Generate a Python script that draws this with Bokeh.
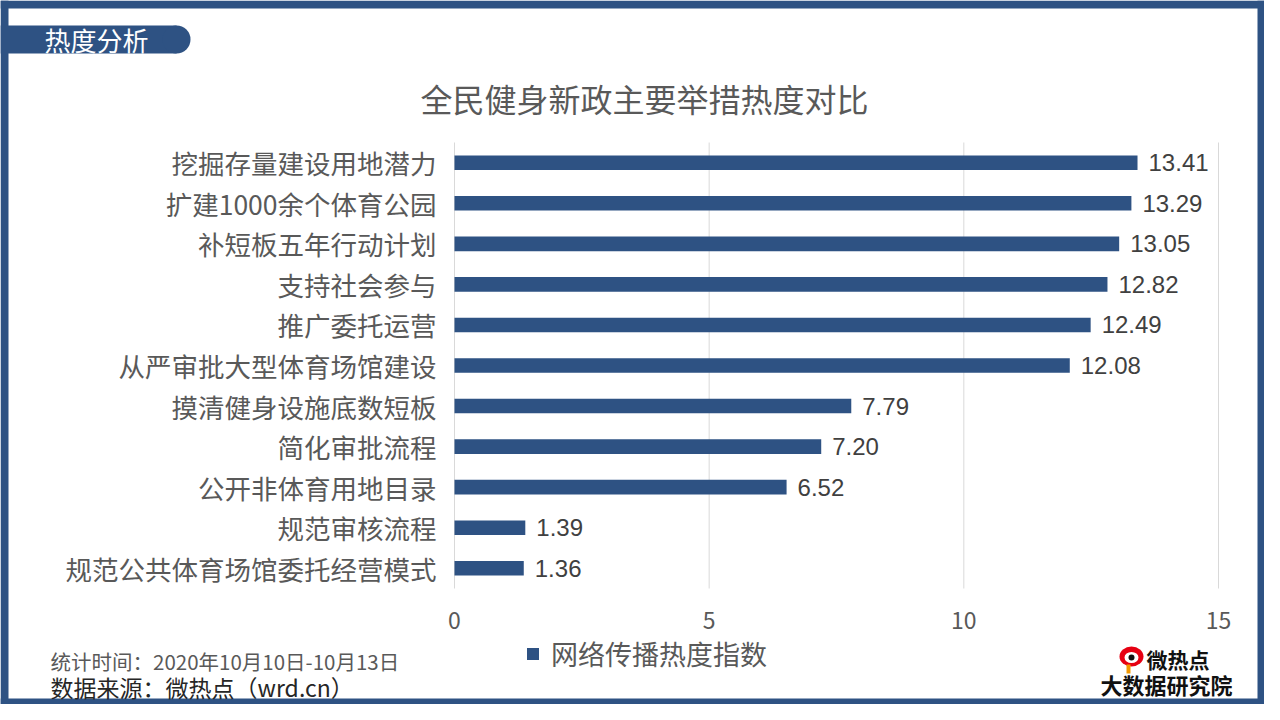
from bokeh.plotting import figure
from bokeh.models import (Range1d, Legend, LegendItem, ColumnDataSource)
from bokeh.core.properties import value
from bokeh.embed import file_html
from bokeh.resources import INLINE

# ---------------- data ----------------
categories = ["挖掘存量建设用地潜力", "扩建1000余个体育公园", "补短板五年行动计划",
              "支持社会参与", "推广委托运营", "从严审批大型体育场馆建设",
              "摸清健身设施底数短板", "简化审批流程", "公开非体育用地目录",
              "规范审核流程", "规范公共体育场馆委托经营模式"]
values = [13.41, 13.29, 13.05, 12.82, 12.49, 12.08, 7.79, 7.20, 6.52, 1.39, 1.36]
x_ticks = [0, 5, 10, 15]
series_name = "网络传播热度指数"
title_text = "全民健身新政主要举措热度对比"
header_text = "热度分析"
footer_time = "统计时间：2020年10月10日-10月13日"
footer_source = "数据来源：微热点（wrd.cn）"
logo_top = "微热点"
logo_bottom = "大数据研究院"

# ---------------- layout / style ----------------
BLUE = "#2E5283"
TXT = "#595959"
CJK = "Noto Sans CJK SC"
W, H = 1264, 704
FL, FR, FT, FB = 454, 1218, 142, 588      # plot area in canvas pixels
XMAX = 15
n = len(categories)
idx = list(range(n))

# canvas-pixel base coordinate system (y down), whole canvas is the frame
p = figure(width=W, height=H, output_backend="svg", toolbar_location=None,
           x_range=Range1d(0, W), y_range=Range1d(H, 0),
           x_axis_location=None, y_axis_location=None,
           min_border=0)
p.min_border_left = p.min_border_right = p.min_border_top = p.min_border_bottom = 0
p.background_fill_color = "white"
p.border_fill_color = "white"
p.outline_line_color = None
p.xgrid.visible = False
p.ygrid.visible = False

# value scale and row scale for the chart area
upx = XMAX / (FR - FL)
rpx = (FB - FT) / n
p.extra_x_ranges = {"val": Range1d(-FL * upx, XMAX + (W - FR) * upx)}
p.extra_y_ranges = {"row": Range1d((H - FT) / rpx - 0.5, -FT / rpx - 0.5)}
R = dict(x_range_name="val", y_range_name="row")

src = ColumnDataSource(dict(pos=idx, val=values, cat=categories,
                            zero=[0] * n,
                            lab=[f"{v:.2f}" for v in values]))
tsrc = ColumnDataSource(dict(t=x_ticks, lo=[-0.5] * len(x_ticks),
                             hi=[n - 0.5] * len(x_ticks),
                             lab=[str(t) for t in x_ticks]))

# gridlines
p.segment(x0="t", x1="t", y0="lo", y1="hi", source=tsrc,
          line_color="#D9D9D9", line_width=1, **R)
# bars
bars = p.hbar(y="pos", right="val", left=0, height=0.36, source=src,
              fill_color=BLUE, line_color=None, **R)
# value labels
p.text(x="val", y="pos", text="lab", source=src, x_offset=11,
       text_baseline="middle", text_align="left",
       text_font=value("Liberation Sans"), text_font_size="24px",
       text_color="#404040", **R)
# category labels (y axis)
p.text(x="zero", y="pos", text="cat", source=src, x_offset=-18,
       text_baseline="middle", text_align="right",
       text_font=value(CJK), text_font_size="26.5px", text_color=TXT, **R)
# x tick labels
p.text(x="t", y="hi", text="lab", source=tsrc, y_offset=32,
       text_baseline="middle", text_align="center",
       text_font=value(CJK), text_font_size="23px", text_color=TXT, **R)

# legend
legend = Legend(items=[LegendItem(label=series_name, renderers=[bars])],
                location=(525, H - 673), orientation="horizontal",
                border_line_color=None, background_fill_alpha=0,
                padding=0, margin=0, glyph_width=15, glyph_height=15,
                label_standoff=11, label_text_font=CJK,
                label_text_font_size="27px", label_text_color=TXT)
p.add_layout(legend)

# ---------------- decorations (canvas pixels) ----------------
# outer frame
p.quad(left=[0, 0, 0, W - 7], right=[W, W, 8, W],
       top=[0, H - 6, 0, 0], bottom=[8, H, H, H],
       fill_color=BLUE, line_color=None)
# header pill
p.quad(left=[0], right=[176], top=[25], bottom=[53],
       fill_color=BLUE, line_color=None)
p.circle(x=[176], y=[39], radius=14, fill_color=BLUE, line_color=None)


def txt(x, y, t, size, color, align="left", style="normal"):
    p.text(x=[x], y=[y], text=[t], text_font=value(CJK),
           text_font_size=size, text_color=color, text_align=align,
           text_baseline="middle", text_font_style=style)


txt(44, 39, header_text, "26px", "white")
txt(644, 97, title_text, "32px", TXT, align="center")
txt(50, 660, footer_time, "20.5px", TXT)
txt(50, 686, footer_source, "23px", "#262626")

# logo
p.ellipse(x=[1131], y=[656], width=24, height=20, fill_color="#E60012",
          line_color=None)
p.ellipse(x=[1131], y=[657], width=14, height=11, fill_color="white",
          line_color=None)
p.circle(x=[1131], y=[657], radius=3, fill_color="#111111", line_color=None)
p.quad(left=[1126], right=[1130], top=[664], bottom=[673],
       fill_color="#F39800", line_color=None)
txt(1146, 658, logo_top, "21px", "#111111", style="bold")
txt(1100, 683, logo_bottom, "22px", "#111111", style="bold")

open("out.html", "w").write(file_html(p, INLINE))
